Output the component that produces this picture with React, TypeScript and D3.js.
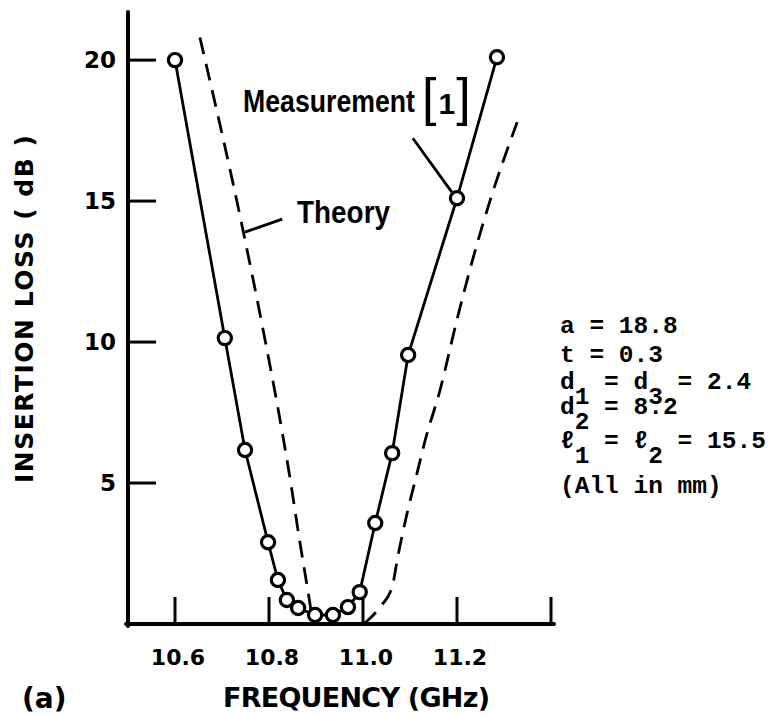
import React, { useEffect, useRef } from "react";
import * as d3 from "d3";

// measured insertion loss (circles)
const measFreq = [10.6, 10.706, 10.749, 10.798, 10.819, 10.838, 10.862, 10.898, 10.936, 10.968, 10.993, 11.026, 11.062, 11.096, 11.2, 11.285];
const measLoss = [20.0, 10.14, 6.17, 2.9, 1.56, 0.85, 0.57, 0.32, 0.32, 0.6, 1.13, 3.58, 6.06, 9.54, 15.1, 20.1];

// theory (dashed)
const theoryFreq = [10.653, 10.743, 10.789, 10.817, 10.843, 10.866, 10.887, 10.894, 11.0, 11.011, 11.036, 11.062, 11.074, 11.094, 11.115, 11.132, 11.164, 11.2, 11.243, 11.27, 11.328];
const theoryLoss = [20.8, 14.1, 10.3, 7.84, 5.35, 2.87, 0.74, 0, 0, 0.14, 0.6, 1.31, 2.38, 3.94, 5.35, 6.5, 8.3, 10.8, 13.5, 15.0, 17.8];

const yTicks = [5, 10, 15, 20];
const xTicks = [10.6, 10.8, 11.0, 11.2, 11.4];
const xTickLabels = ["10.6", "10.8", "11.0", "11.2", ""];

// "_x" marks a subscript character
const paramLines = ["a = 18.8", "t = 0.3", "d_1 = d_3 = 2.4", "d_2 = 8.2", "ℓ_1 = ℓ_2 = 15.5", "(All in mm)"];

const LABEL_FONT = "'DejaVu Sans', sans-serif";
const NOTE_FONT = "'Liberation Sans', Arial, sans-serif";
const MONO_FONT = "'Liberation Mono', 'DejaVu Sans Mono', monospace";

const App = () => {
  const ref = useRef(null);

  useEffect(() => {
    const svg = d3.select(ref.current);
    svg.selectAll("*").remove();

    const x = d3.scaleLinear().domain([10.5, 11.4]).range([128, 551]);
    const y = d3.scaleLinear().domain([0, 21.6]).range([624, 15]);

    // axes
    svg.append("line")
      .attr("x1", x(10.5)).attr("x2", x(10.5))
      .attr("y1", y(0) + 2).attr("y2", 12)
      .attr("stroke", "#000").attr("stroke-width", 4).attr("stroke-linecap", "round");
    svg.append("line")
      .attr("x1", x(10.5) - 2).attr("x2", x(11.4) + 3)
      .attr("y1", y(0)).attr("y2", y(0))
      .attr("stroke", "#000").attr("stroke-width", 4).attr("stroke-linecap", "round");

    // y ticks (inward)
    svg.selectAll(".ytick")
      .data(yTicks)
      .enter()
      .append("line")
      .attr("x1", x(10.5)).attr("x2", x(10.5) + 28)
      .attr("y1", (d) => y(d)).attr("y2", (d) => y(d))
      .attr("stroke", "#000").attr("stroke-width", 3);
    svg.selectAll(".ylab")
      .data(yTicks)
      .enter()
      .append("text")
      .attr("x", 116)
      .attr("y", (d) => y(d))
      .attr("dy", "0.36em")
      .attr("text-anchor", "end")
      .attr("font-family", LABEL_FONT)
      .attr("font-weight", "bold")
      .attr("font-size", 23)
      .text((d) => d);

    // x ticks (inward)
    svg.selectAll(".xtick")
      .data(xTicks)
      .enter()
      .append("line")
      .attr("x1", (d) => x(d)).attr("x2", (d) => x(d))
      .attr("y1", y(0)).attr("y2", y(0) - 27)
      .attr("stroke", "#000").attr("stroke-width", 3);
    svg.selectAll(".xlab")
      .data(xTicks)
      .enter()
      .append("text")
      .attr("x", (d) => x(d) + 3)
      .attr("y", 665)
      .attr("text-anchor", "middle")
      .attr("font-family", LABEL_FONT)
      .attr("font-weight", "bold")
      .attr("font-size", 22)
      .text((d, i) => xTickLabels[i]);

    // axis titles
    svg.append("text")
      .attr("transform", "translate(33,309) rotate(-90)")
      .attr("text-anchor", "middle")
      .attr("font-family", LABEL_FONT)
      .attr("font-weight", "bold")
      .attr("font-size", 25)
      .attr("textLength", 348)
      .attr("lengthAdjust", "spacing")
      .text("INSERTION LOSS ( dB )");
    svg.append("text")
      .attr("x", 223)
      .attr("y", 707)
      .attr("font-family", LABEL_FONT)
      .attr("font-weight", "bold")
      .attr("font-size", 27)
      .attr("textLength", 267)
      .attr("lengthAdjust", "spacing")
      .text("FREQUENCY (GHz)");
    svg.append("text")
      .attr("x", 22)
      .attr("y", 708)
      .attr("font-family", LABEL_FONT)
      .attr("font-weight", "bold")
      .attr("font-size", 28)
      .text("(a)");

    // theory curve
    const theory = theoryFreq.map((f, i) => [f, theoryLoss[i]]);
    svg.append("path")
      .datum(theory)
      .attr("d", d3.line().x((d) => x(d[0])).y((d) => y(d[1])).curve(d3.curveMonotoneX))
      .attr("fill", "none")
      .attr("stroke", "#000")
      .attr("stroke-width", 2.8)
      .attr("stroke-dasharray", "17,10");

    // measurement curve
    const meas = measFreq.map((f, i) => [f, measLoss[i]]);
    svg.append("path")
      .datum(meas)
      .attr("d", d3.line().x((d) => x(d[0])).y((d) => y(d[1])))
      .attr("fill", "none")
      .attr("stroke", "#000")
      .attr("stroke-width", 2.8);
    svg.selectAll(".pt")
      .data(meas)
      .enter()
      .append("circle")
      .attr("cx", (d) => x(d[0]))
      .attr("cy", (d) => y(d[1]))
      .attr("r", 6.6)
      .attr("fill", "#fff")
      .attr("stroke", "#000")
      .attr("stroke-width", 3.2);

    // annotations
    svg.append("line")
      .attr("x1", x(11.106)).attr("y1", y(17.23))
      .attr("x2", x(11.189)).attr("y2", y(15.32))
      .attr("stroke", "#000").attr("stroke-width", 2.8);
    svg.append("line")
      .attr("x1", x(10.828)).attr("y1", y(14.36))
      .attr("x2", x(10.749)).attr("y2", y(13.9))
      .attr("stroke", "#000").attr("stroke-width", 2.8);

    svg.append("text")
      .attr("x", 243).attr("y", 112)
      .attr("font-family", NOTE_FONT).attr("font-weight", "bold")
      .attr("font-size", 31)
      .attr("textLength", 172).attr("lengthAdjust", "spacingAndGlyphs")
      .text("Measurement");

    // "[1]" as one text with three sized parts
    const ref1 = svg.append("text")
      .attr("x", 422).attr("y", 115)
      .attr("font-family", NOTE_FONT);
    ref1.append("tspan").attr("font-size", 52).text("[");
    ref1.append("tspan").attr("font-size", 30).attr("font-weight", "bold").attr("dx", 2).attr("dy", -1).text("1");
    ref1.append("tspan").attr("font-size", 52).attr("dx", 1).attr("dy", 1).text("]");

    svg.append("text")
      .attr("x", 297).attr("y", 223)
      .attr("font-family", NOTE_FONT).attr("font-weight", "bold")
      .attr("font-size", 31)
      .attr("textLength", 93).attr("lengthAdjust", "spacingAndGlyphs")
      .text("Theory");

    // parameter block
    const baselines = [333, 362, 389, 414, 448, 493];
    paramLines.forEach((line, i) => {
      const t = svg.append("text")
        .attr("x", 560).attr("y", baselines[i])
        .attr("font-family", MONO_FONT).attr("font-weight", "bold")
        .attr("font-size", 24.5)
        .style("white-space", "pre");
      const parts = line.split(/_(.)/);
      parts.forEach((p, j) => {
        if (!p) return;
        const sub = j % 2 === 1;
        t.append("tspan")
          .attr("dy", sub ? 15 : j > 0 ? -15 : 0)
          .text(p);
      });
    });
  }, []);

  return (
    <svg
      ref={ref}
      width={782}
      height={716}
      style={{ position: "absolute", left: 0, top: 0, background: "#fff" }}
    ></svg>
  );
};

export default App;
